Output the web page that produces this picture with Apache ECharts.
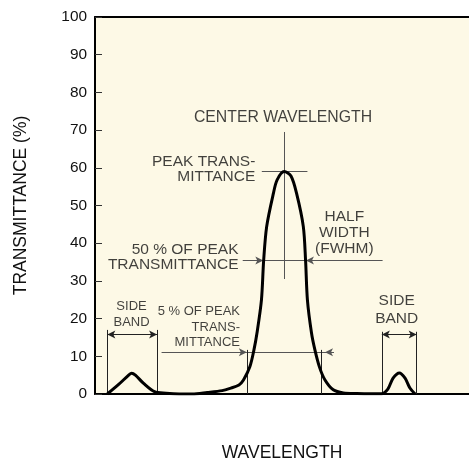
<!DOCTYPE html>
<html>
<head>
<meta charset="utf-8">
<script src="https://cdn.jsdelivr.net/npm/echarts@6/dist/echarts.min.js"></script>
<style>
html,body{margin:0;padding:0;background:#fff;}
#chart{width:469px;height:463px;}
</style>
</head>
<body>
<div id="chart"></div>
<script>
// ---- data (wavelength in arbitrary units 0..100, transmittance in %) ----
const curveX = [3.3, 6.4, 9.0, 9.8, 10.8, 13.0, 15.9, 19.0, 22.5, 26.0, 30.0, 34.0, 36.1, 38.5, 39.7, 41.4, 42.5, 43.3, 44.5, 45.1, 45.9, 47.7, 48.7, 50.6, 52.4, 53.9, 55.7, 56.3, 56.8, 57.9, 58.8, 60.0, 61.5, 63.7, 66.4, 70.0, 76.6, 78.3, 79.7, 81.4, 82.9, 84.2, 85.6];
const curveY = [0, 2.6, 5.0, 5.5, 5.0, 2.8, 0.6, 0.2, 0, 0, 0.4, 0.9, 1.5, 2.4, 3.7, 7.2, 11.7, 16.1, 24.9, 35.5, 44.4, 53.2, 56.8, 59.0, 57.8, 53.2, 44.4, 35.5, 24.9, 16.1, 11.7, 7.2, 3.7, 1.1, 0.3, 0.15, 0.05, 1.3, 4.2, 5.6, 4.2, 1.6, 0];
const yTicks = [0, 10, 20, 30, 40, 50, 60, 70, 80, 90, 100];
const peakX = 50.6, peakY = 59.0;
const halfY = 35.4, halfLeftX = 45.0, halfRightX = 56.4;
const fiveY = 11.1, fiveLeftX = 40.6, fiveRightX = 60.6;
const sideBandL = [3.3, 16.6];
const sideBandR = [76.7, 86.0];

const annText = [
  {t: 'CENTER WAVELENGTH', x: 50.4, y: 73.2, a: 'center', fs: 15.8, lh: 16},
  {t: 'PEAK TRANS-\nMITTANCE', x: 43.0, y: 59.4, a: 'right', fs: 15.5, lh: 15},
  {t: 'HALF\nWIDTH\n(FWHM)', x: 66.8, y: 42.7, a: 'center', fs: 15.5, lh: 16},
  {t: '50 % OF PEAK\nTRANSMITTANCE', x: 38.5, y: 36.2, a: 'right', fs: 15.5, lh: 15.3},
  {t: 'SIDE\nBAND', x: 9.9, y: 21.0, a: 'center', fs: 13, lh: 15.6},
  {t: '5 % OF PEAK\nTRANS-\nMITTANCE', x: 38.9, y: 17.6, a: 'right', fs: 13, lh: 15.4},
  {t: 'SIDE\nBAND', x: 80.8, y: 22.2, a: 'center', fs: 15.5, lh: 18.3}
];

const FONT = '"Liberation Sans", Arial, sans-serif';
const thin = {color: '#222', width: 1, type: 'solid'};
const gray = {color: '#555', width: 1, type: 'solid'};
const AS = [6, 8];

function seg(x1, y1, x2, y2, s1, s2, ls) {
  return [
    {coord: [x1, y1], symbol: s1 || 'none', symbolSize: AS, lineStyle: ls || thin},
    {coord: [x2, y2], symbol: s2 || 'none', symbolSize: AS}
  ];
}

const marks = [
  seg(peakX, 69.5, peakX, 30.5, null, null, gray),
  seg(44.6, peakY, 56.8, peakY, null, null, gray),
  seg(39.5, halfY, halfLeftX, halfY, null, 'arrow', gray),
  seg(halfLeftX, halfY, halfRightX, halfY, null, null, gray),
  seg(76.9, halfY, halfRightX, halfY, null, 'arrow', gray),
  seg(17.8, fiveY, fiveLeftX, fiveY, null, 'arrow', gray),
  seg(fiveLeftX, fiveY, 61.5, fiveY, null, null, gray),
  seg(63.9, fiveY, 61.5, fiveY, null, 'arrow', gray),
  seg(fiveLeftX, 0, fiveLeftX, 11.7),
  seg(fiveRightX, 0, fiveRightX, 11.7),
  seg(sideBandL[0], 0, sideBandL[0], 17.0),
  seg(sideBandL[1], 0, sideBandL[1], 17.0),
  seg(sideBandL[0], 15.8, sideBandL[1], 15.8, 'arrow', 'arrow'),
  seg(sideBandR[0], 0, sideBandR[0], 16.5),
  seg(sideBandR[1], 0, sideBandR[1], 16.5),
  seg(sideBandR[0], 15.8, sideBandR[1], 15.8, 'arrow', 'arrow')
];

const chart = echarts.init(document.getElementById('chart'), null, {renderer: 'canvas'});
chart.setOption({
  animation: false,
  backgroundColor: '#ffffff',
  grid: {left: 95, right: 0, top: 17, bottom: 69, show: true, backgroundColor: '#fdf9e6', borderWidth: 0, containLabel: false, outerBoundsMode: 'none'},
  xAxis: [{
    type: 'value', min: 0, max: 100, position: 'bottom',
    name: 'WAVELENGTH', nameLocation: 'middle', nameGap: 50,
    nameTextStyle: {fontFamily: FONT, fontSize: 17.5, color: '#111'},
    axisLine: {show: true, lineStyle: {color: '#000', width: 2}},
    axisTick: {show: false}, axisLabel: {show: false}, splitLine: {show: false}
  }, {
    type: 'value', min: 0, max: 100, position: 'top',
    axisLine: {show: true, lineStyle: {color: '#000', width: 2}},
    axisTick: {show: false}, axisLabel: {show: false}, splitLine: {show: false}
  }],
  yAxis: {
    type: 'value', min: yTicks[0], max: yTicks[yTicks.length - 1], interval: 10,
    name: 'TRANSMITTANCE (%)', nameLocation: 'middle', nameGap: 65,
    nameTextStyle: {fontFamily: FONT, fontSize: 17.5, color: '#111'},
    axisLine: {show: true, lineStyle: {color: '#000', width: 2}},
    axisTick: {show: true, inside: true, length: 7, lineStyle: {color: '#333', width: 1}},
    axisLabel: {fontFamily: FONT, fontSize: 15.4, color: '#111', margin: 8},
    splitLine: {show: false}
  },
  series: [{
    type: 'line',
    data: curveX.map((x, i) => [x, curveY[i]]),
    showSymbol: false, symbol: 'none',
    smooth: 0.3,
    lineStyle: {color: '#000', width: 3},
    z: 5
  }, {
    type: 'line', data: [], symbol: 'none',
    markLine: {silent: true, animation: false, label: {show: false}, data: marks},
    z: 4
  }, {
    type: 'scatter',
    symbolSize: 1,
    itemStyle: {color: 'rgba(0,0,0,0)'},
    data: annText.map(d => ({
      value: [d.x, d.y],
      label: {
        show: true, position: [0, 0], formatter: d.t,
        align: d.a, verticalAlign: 'middle',
        fontFamily: FONT, fontSize: d.fs, lineHeight: d.lh, color: '#111'
      }
    })),
    z: 6
  }]
});
</script>
</body>
</html>
